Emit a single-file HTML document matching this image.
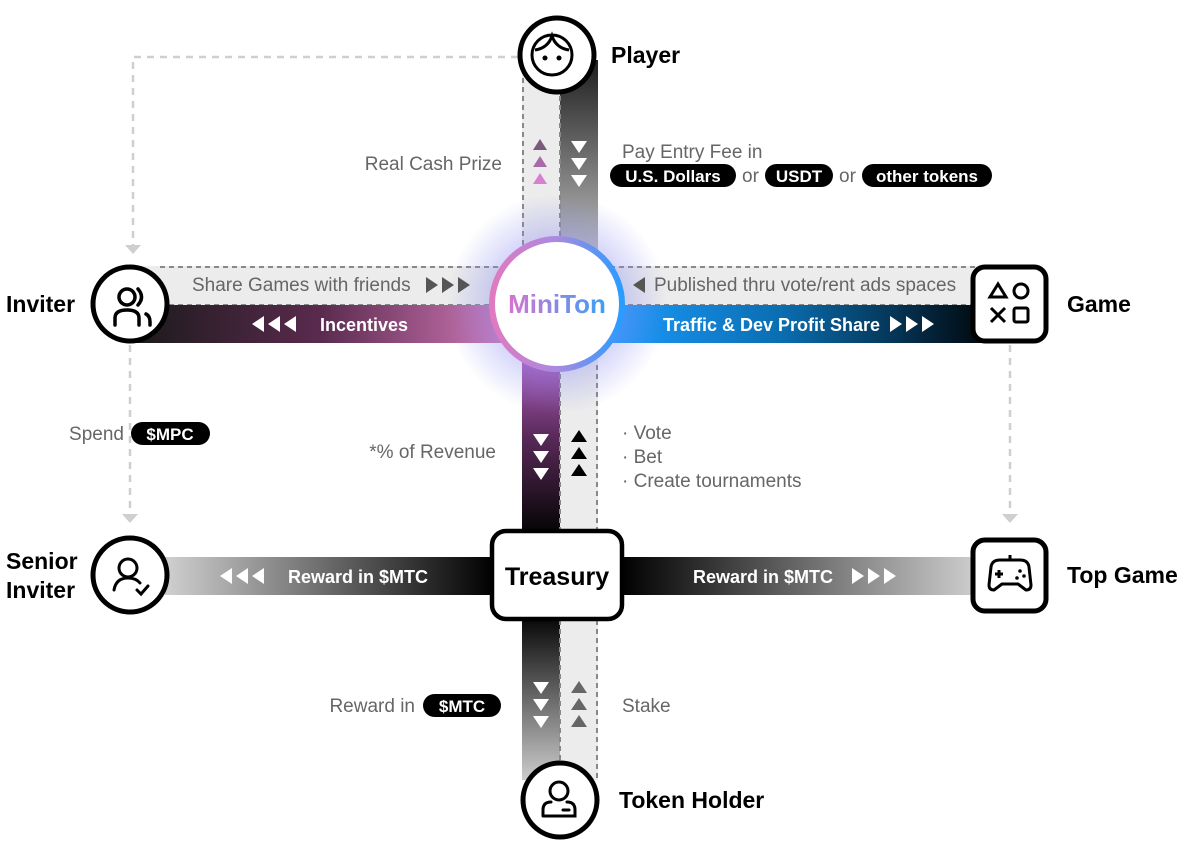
<!DOCTYPE html>
<html><head><meta charset="utf-8"><style>
html,body{margin:0;padding:0;background:#fff;}
svg{display:block;font-family:"Liberation Sans",sans-serif;}
.g{fill:#666;font-size:19px;}
.w{fill:#fff;font-size:18px;font-weight:bold;}
.b{fill:#000;font-size:23px;font-weight:bold;}
.pt{fill:#fff;font-size:17px;font-weight:bold;}
</style></head><body>
<svg width="1189" height="844" viewBox="0 0 1189 844">
<defs>
<linearGradient id="vtop" x1="0" y1="0" x2="0" y2="1"><stop offset="0" stop-color="#1e1e1e"/><stop offset="1" stop-color="#c4c4c4"/></linearGradient>
<linearGradient id="vmid" x1="0" y1="0" x2="0" y2="1"><stop offset="0" stop-color="#c46ad6"/><stop offset="0.5" stop-color="#5a2a5a"/><stop offset="1" stop-color="#050505"/></linearGradient>
<linearGradient id="vbot" x1="0" y1="0" x2="0" y2="1"><stop offset="0" stop-color="#0a0a0a"/><stop offset="1" stop-color="#cccccc"/></linearGradient>
<linearGradient id="hl" x1="0" y1="0" x2="1" y2="0"><stop offset="0" stop-color="#1a1a1a"/><stop offset="0.5" stop-color="#5a2a4e"/><stop offset="1" stop-color="#d47ab8"/></linearGradient>
<linearGradient id="hr" x1="0" y1="0" x2="1" y2="0"><stop offset="0" stop-color="#1c9cff"/><stop offset="0.45" stop-color="#0a6db0"/><stop offset="1" stop-color="#000"/></linearGradient>
<linearGradient id="bl" x1="0" y1="0" x2="1" y2="0"><stop offset="0" stop-color="#d0d0d0"/><stop offset="1" stop-color="#000"/></linearGradient>
<linearGradient id="br" x1="0" y1="0" x2="1" y2="0"><stop offset="0" stop-color="#000"/><stop offset="1" stop-color="#d0d0d0"/></linearGradient>
<linearGradient id="ring" x1="0" y1="0" x2="1" y2="0"><stop offset="0" stop-color="#e07ac0"/><stop offset="0.5" stop-color="#a98ae0"/><stop offset="1" stop-color="#2a9cff"/></linearGradient>
<linearGradient id="mt" x1="0" y1="0" x2="1" y2="0"><stop offset="0" stop-color="#d873d0"/><stop offset="1" stop-color="#3aa0f5"/></linearGradient>
<radialGradient id="glow"><stop offset="0.5" stop-color="#8a8cf0" stop-opacity="0.45"/><stop offset="1" stop-color="#8a8cf0" stop-opacity="0"/></radialGradient>
</defs>

<g stroke="#cfcfcf" stroke-width="2.5" stroke-dasharray="7,6" fill="none">
<path d="M518 57 H133 V245"/>
<path d="M130 345 V515"/>
<path d="M1010 345 V515"/>
</g>
<g fill="#cfcfcf">
<path d="M125 245 L133 254 L141 245 Z"/>
<path d="M122 514 L130 523 L138 514 Z"/>
<path d="M1002 514 L1010 523 L1018 514 Z"/>
</g>

<rect x="522" y="60" width="38" height="200" fill="#ececec"/>
<rect x="560" y="60" width="38" height="200" fill="url(#vtop)"/>
<g stroke="#888" stroke-width="2" stroke-dasharray="5,4"><line x1="523" y1="60" x2="523" y2="260"/><line x1="560" y1="60" x2="560" y2="260"/></g>

<rect x="522" y="340" width="38" height="192" fill="url(#vmid)"/>
<rect x="560" y="340" width="38" height="192" fill="#ececec"/>
<g stroke="#888" stroke-width="2" stroke-dasharray="5,4"><line x1="560" y1="365" x2="560" y2="530"/><line x1="597" y1="365" x2="597" y2="530"/></g>

<rect x="522" y="620" width="38" height="160" fill="url(#vbot)"/>
<rect x="560" y="620" width="38" height="160" fill="#ececec"/>
<g stroke="#888" stroke-width="2" stroke-dasharray="5,4"><line x1="560" y1="620" x2="560" y2="780"/><line x1="597" y1="620" x2="597" y2="780"/></g>

<rect x="130" y="266" width="870" height="39" fill="#ececec"/>
<g stroke="#888" stroke-width="2" stroke-dasharray="5,4"><line x1="160" y1="267" x2="1000" y2="267"/><line x1="160" y1="305" x2="1000" y2="305"/></g>
<rect x="130" y="305" width="380" height="38" fill="url(#hl)"/>
<rect x="605" y="305" width="395" height="38" fill="url(#hr)"/>

<rect x="165" y="557" width="330" height="38" fill="url(#bl)"/>
<rect x="620" y="557" width="360" height="38" fill="url(#br)"/>

<circle cx="557" cy="304" r="110" fill="url(#glow)"/>
<circle cx="557" cy="304" r="65" fill="#fff" stroke="url(#ring)" stroke-width="6"/>
<text x="557" y="313" text-anchor="middle" font-size="26" font-weight="bold" fill="url(#mt)">MiniTon</text>

<circle cx="557" cy="55" r="37" fill="#fff" stroke="#000" stroke-width="5"/>
<g fill="none" stroke="#000" stroke-width="3"><circle cx="552" cy="55" r="20"/><path d="M535 50 Q548 48 552 36 Q556 48 569 50"/></g>
<circle cx="545" cy="58" r="2.5"/><circle cx="559" cy="58" r="2.5"/>
<text x="611" y="63" class="b">Player</text>

<circle cx="130" cy="304" r="37" fill="#fff" stroke="#000" stroke-width="5"/>
<g fill="none" stroke="#000" stroke-width="3.5" stroke-linecap="round"><circle cx="127" cy="297" r="8"/><path d="M115 325 V318 Q115 310 127 310 Q139 310 139 318 V325"/><path d="M138 289 Q145 297 138 305"/><path d="M146 314 Q150 316 150 322 V325"/></g>
<text x="6" y="312" class="b">Inviter</text>

<rect x="973" y="267" width="73" height="74" rx="12" fill="#fff" stroke="#000" stroke-width="5"/>
<g fill="none" stroke="#000" stroke-width="3"><path d="M998 284 L990 297 L1006 297 Z"/><circle cx="1021" cy="291" r="7"/><path d="M991 308 L1005 322 M1005 308 L991 322"/><rect x="1014" y="308" width="14" height="14" rx="2"/></g>
<text x="1067" y="312" class="b">Game</text>

<rect x="492" y="531" width="130" height="88" rx="14" fill="#fff" stroke="#000" stroke-width="4.5"/>
<text x="557" y="585" text-anchor="middle" font-size="25" font-weight="bold">Treasury</text>

<circle cx="130" cy="575" r="37" fill="#fff" stroke="#000" stroke-width="5"/>
<g fill="none" stroke="#000" stroke-width="3" stroke-linecap="round"><circle cx="128" cy="568" r="9"/><path d="M114 590 Q116 578 128 578 Q136 578 140 583"/><path d="M137 590 L141 594 L148 586"/></g>
<text x="6" y="569" class="b">Senior</text>
<text x="6" y="598" class="b">Inviter</text>

<rect x="973" y="540" width="73" height="71" rx="12" fill="#fff" stroke="#000" stroke-width="5"/>
<g fill="none" stroke="#000" stroke-width="3" stroke-linejoin="round"><path d="M991 567 Q992 560 1000 560 H1020 Q1028 560 1029 567 L1031 585 Q1031 590 1026 590 L1018 584 H1002 L994 590 Q989 590 989 585 Z"/><line x1="1010" y1="560" x2="1010" y2="555"/><path d="M995 574 H1003 M999 570 V578"/></g>
<circle cx="1020" cy="571" r="1.8"/><circle cx="1024" cy="576" r="1.8"/><circle cx="1017" cy="578" r="1.8"/>
<text x="1067" y="583" class="b">Top Game</text>

<circle cx="560" cy="800" r="37" fill="#fff" stroke="#000" stroke-width="5"/>
<g fill="none" stroke="#000" stroke-width="3" stroke-linecap="round"><circle cx="559" cy="791" r="9"/><path d="M543 816 V810 Q543 802 551 802 M567 802 Q575 802 575 810 V816 H543"/><line x1="563" y1="810" x2="569" y2="810"/></g>
<text x="619" y="808" class="b">Token Holder</text>

<path d="M533 150 L540 139 L547 150Z" fill="#7a5a7a"/>
<path d="M533 167 L540 156 L547 167Z" fill="#a86aa8"/>
<path d="M533 184 L540 173 L547 184Z" fill="#d880d0"/>
<g fill="#fff"><path d="M571 141 L579 153 L587 141Z"/><path d="M571 158 L579 170 L587 158Z"/><path d="M571 175 L579 187 L587 175Z"/></g>
<text x="502" y="170" text-anchor="end" class="g">Real Cash Prize</text>
<text x="622" y="158" class="g">Pay Entry Fee in</text>
<rect x="610" y="164" width="126" height="23" rx="11.5"/><text x="673" y="182" text-anchor="middle" class="pt">U.S. Dollars</text>
<text x="742" y="182" class="g">or</text>
<rect x="765" y="164" width="68" height="23" rx="11.5"/><text x="799" y="182" text-anchor="middle" class="pt">USDT</text>
<text x="839" y="182" class="g">or</text>
<rect x="862" y="164" width="130" height="23" rx="11.5"/><text x="927" y="182" text-anchor="middle" class="pt">other tokens</text>

<text x="192" y="291" class="g">Share Games with friends</text>
<g fill="#555"><path d="M426 277 L438 285 L426 293Z"/><path d="M442 277 L454 285 L442 293Z"/><path d="M458 277 L470 285 L458 293Z"/></g>
<path d="M645 277 L633 285 L645 293Z" fill="#555"/>
<text x="654" y="291" class="g">Published thru vote/rent ads spaces</text>
<g fill="#fff"><path d="M264 316 L252 324 L264 332Z"/><path d="M280 316 L268 324 L280 332Z"/><path d="M296 316 L284 324 L296 332Z"/></g>
<text x="320" y="331" class="w">Incentives</text>
<text x="663" y="331" class="w">Traffic &amp; Dev Profit Share</text>
<g fill="#fff"><path d="M890 316 L902 324 L890 332Z"/><path d="M906 316 L918 324 L906 332Z"/><path d="M922 316 L934 324 L922 332Z"/></g>

<g fill="#fff"><path d="M533 434 L541 446 L549 434Z"/><path d="M533 451 L541 463 L549 451Z"/><path d="M533 468 L541 480 L549 468Z"/></g>
<g fill="#000"><path d="M571 442 L579 430 L587 442Z"/><path d="M571 459 L579 447 L587 459Z"/><path d="M571 476 L579 464 L587 476Z"/></g>
<text x="496" y="458" text-anchor="end" class="g">*% of Revenue</text>
<text x="622" y="439" class="g">· Vote</text>
<text x="622" y="463" class="g">· Bet</text>
<text x="622" y="487" class="g">· Create tournaments</text>
<text x="124" y="440" text-anchor="end" class="g">Spend</text>
<rect x="131" y="422" width="79" height="23" rx="11.5"/><text x="170" y="440" text-anchor="middle" class="pt">$MPC</text>

<g fill="#fff"><path d="M232 568 L220 576 L232 584Z"/><path d="M248 568 L236 576 L248 584Z"/><path d="M264 568 L252 576 L264 584Z"/></g>
<text x="288" y="583" class="w">Reward in $MTC</text>
<text x="693" y="583" class="w">Reward in $MTC</text>
<g fill="#fff"><path d="M852 568 L864 576 L852 584Z"/><path d="M868 568 L880 576 L868 584Z"/><path d="M884 568 L896 576 L884 584Z"/></g>

<g fill="#fff"><path d="M533 682 L541 694 L549 682Z"/><path d="M533 699 L541 711 L549 699Z"/><path d="M533 716 L541 728 L549 716Z"/></g>
<g fill="#666"><path d="M571 693 L579 681 L587 693Z"/><path d="M571 710 L579 698 L587 710Z"/><path d="M571 727 L579 715 L587 727Z"/></g>
<text x="415" y="712" text-anchor="end" class="g">Reward in</text>
<rect x="423" y="694" width="78" height="23" rx="11.5"/><text x="462" y="712" text-anchor="middle" class="pt">$MTC</text>
<text x="622" y="712" class="g">Stake</text>
</svg>
</body></html>
